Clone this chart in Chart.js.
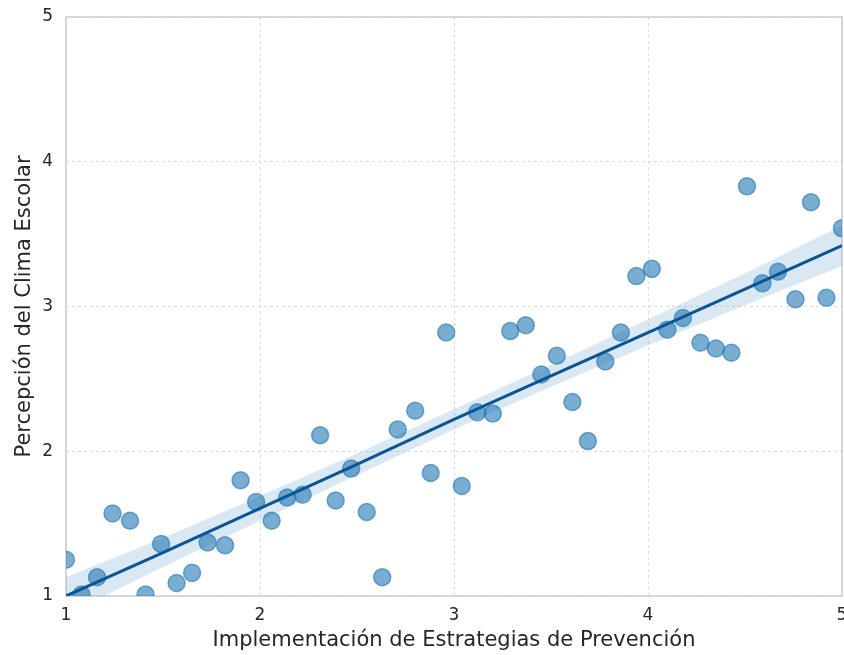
<!DOCTYPE html>
<html>
<head>
<meta charset="utf-8">
<script src="https://cdn.jsdelivr.net/npm/chart.js@4"></script>
<style>
  html, body { margin: 0; padding: 0; background: #fff; overflow: hidden; }
  #clip { width: 844px; height: 655px; overflow: hidden; }
  #wrap { width: 860px; height: 655px; }
</style>
</head>
<body>
<div id="clip"><div id="wrap"><canvas id="chart"></canvas></div></div>
<script>
// Scatter points
const implementacion = [1.00, 1.08, 1.16, 1.24, 1.33, 1.41, 1.49, 1.57, 1.65, 1.73,
  1.82, 1.90, 1.98, 2.06, 2.14, 2.22, 2.31, 2.39, 2.47, 2.55,
  2.63, 2.71, 2.80, 2.88, 2.96, 3.04, 3.12, 3.20, 3.29, 3.37,
  3.45, 3.53, 3.61, 3.69, 3.78, 3.86, 3.94, 4.02, 4.10, 4.18,
  4.27, 4.35, 4.43, 4.51, 4.59, 4.67, 4.76, 4.84, 4.92, 5.00];
const percepcion = [1.25, 1.01, 1.13, 1.57, 1.52, 1.01, 1.36, 1.09, 1.16, 1.37,
  1.35, 1.80, 1.65, 1.52, 1.68, 1.70, 2.11, 1.66, 1.88, 1.58,
  1.13, 2.15, 2.28, 1.85, 2.82, 1.76, 2.27, 2.26, 2.83, 2.87,
  2.53, 2.66, 2.34, 2.07, 2.62, 2.82, 3.21, 3.26, 2.84, 2.92,
  2.75, 2.71, 2.68, 3.83, 3.16, 3.24, 3.05, 3.72, 3.06, 3.54];

// Regression line and confidence band, read at these x positions
const fitX = [1, 1.5, 2, 2.5, 3, 3.5, 4, 4.5, 5];
const fitY = [1.00, 1.30, 1.605, 1.91, 2.22, 2.52, 2.82, 3.12, 3.42];
const bandLow = [0.87, 1.20, 1.52, 1.835, 2.15, 2.445, 2.73, 3.01, 3.28];
const bandHigh = [1.13, 1.40, 1.69, 1.985, 2.29, 2.595, 2.91, 3.23, 3.56];

const xTicks = [1, 2, 3, 4, 5];
const yTicks = [1, 2, 3, 4, 5];

const toXY = (xs, ys) => xs.map((x, i) => ({ x: x, y: ys[i] }));

// light grey frame round the plot, like the seaborn spines
const frame = {
  id: "frame",
  beforeDatasetsDraw(chart) {
    const { ctx, chartArea: a } = chart;
    ctx.save();
    ctx.strokeStyle = "#cccccc";
    ctx.lineWidth = 1.5;
    ctx.strokeRect(a.left, a.top, a.right - a.left, a.bottom - a.top);
    ctx.restore();
  }
};

const tickFont = { family: "DejaVu Sans", size: 17 };
const titleFont = { family: "DejaVu Sans", size: 21 };

new Chart(document.getElementById("chart"), {
  type: "scatter",
  data: {
    datasets: [
      {
        label: "low",
        data: toXY(fitX, bandLow),
        showLine: true,
        pointRadius: 0,
        borderWidth: 0,
        borderColor: "rgba(0,0,0,0)",
        clip: 0,
        order: 3
      },
      {
        label: "high",
        data: toXY(fitX, bandHigh),
        showLine: true,
        pointRadius: 0,
        borderWidth: 0,
        borderColor: "rgba(0,0,0,0)",
        backgroundColor: "rgba(31,119,180,0.17)",
        fill: "-1",
        clip: 0,
        order: 3
      },
      {
        label: "puntos",
        data: toXY(implementacion, percepcion),
        pointRadius: 8.5,
        pointBorderWidth: 1.5,
        backgroundColor: "rgba(31,119,180,0.6)",
        borderColor: "rgba(31,119,180,0.6)",
        clip: 0,
        order: 2
      },
      {
        label: "ajuste",
        data: toXY(fitX, fitY),
        showLine: true,
        pointRadius: 0,
        borderWidth: 3,
        borderColor: "#0b5596",
        clip: 0,
        order: 1
      }
    ]
  },
  options: {
    responsive: true,
    maintainAspectRatio: false,
    animation: false,
    // canvas is 860 wide inside an 844 box, so the last x label runs off the edge
    layout: { padding: { top: 17, right: 18, bottom: 0, left: 0 } },
    plugins: {
      legend: { display: false },
      tooltip: { enabled: false }
    },
    scales: {
      x: {
        type: "linear",
        min: 1,
        max: 5,
        afterBuildTicks: s => { s.ticks = xTicks.map(v => ({ value: v })); },
        afterFit: s => { s.height = 59; },
        border: { display: false, dash: [3, 3] },
        grid: { color: "#dddddd", drawTicks: false },
        ticks: { font: tickFont, color: "#262626", padding: 9, maxRotation: 0 },
        title: { display: true, text: "Implementación de Estrategias de Prevención",
                 font: titleFont, color: "#262626", padding: { top: 2, bottom: 1.5 } }
      },
      y: {
        type: "linear",
        min: 1,
        max: 5,
        afterBuildTicks: s => { s.ticks = yTicks.map(v => ({ value: v })); },
        afterFit: s => { s.width = 66; s.paddingTop = 0; s.paddingBottom = 0; },
        border: { display: false, dash: [3, 3] },
        grid: { color: "#dddddd", drawTicks: false },
        ticks: { font: tickFont, color: "#262626", padding: 13 },
        title: { display: true, text: "Percepción del Clima Escolar",
                 font: titleFont, color: "#262626", padding: { top: 11.5, bottom: 2 } }
      }
    }
  },
  plugins: [frame]
});
</script>
</body>
</html>
